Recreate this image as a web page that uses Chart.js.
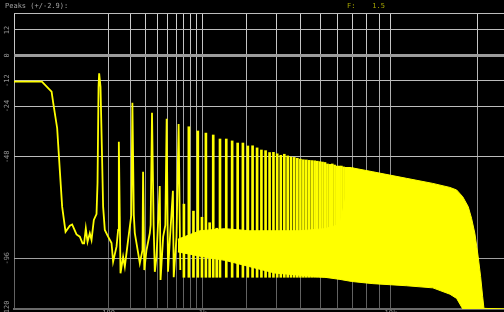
<!DOCTYPE html>
<html>
<head>
<meta charset="utf-8">
<script src="https://cdn.jsdelivr.net/npm/chart.js@4.4.1/dist/chart.umd.min.js"></script>
<style>
html, body { margin: 0; padding: 0; background: #000; }
#wrap { position: relative; width: 504px; height: 312px; overflow: hidden; background: #000; }
#spectrum { position: absolute; left: 0; top: 0; }
.hdr { position: absolute; top: 2px; font: 7px "DejaVu Sans Mono", monospace; line-height: 8px; white-space: pre; }
</style>
</head>
<body>
<div id="wrap">
  <canvas id="spectrum" width="504" height="312"></canvas>
  <div class="hdr" style="left:5px;color:#a4a4a4">Peaks (+/-2.9):</div>
  <div class="hdr" style="left:347px;color:#a8a800">F:    1.5</div>
</div>
<script>
// frequency axis is warped: position ~ f^0.3
const P = 0.3;
const maxHz = 24000;

// low end: DC bump, fundamental and the first harmonics with the noise between them
const lowHz = [0, 1.7, 4.6, 5.3, 7.3, 8.9, 10.5, 13.2, 17.2, 19.7, 25.1, 29.8, 34.1, 36.8, 39.8,
    43.1, 47.7, 51.4, 56.7, 63.3, 65.9, 68.6, 70.3, 74.1, 78.8, 81.8, 87.1, 98.1, 110.5, 116.6,
    130.5, 137.4, 140.6, 148.2, 160.6, 169.2, 186.4, 204.6, 210.9, 219.4, 225.6, 246.8, 258.2, 277.2, 281.2,
    290.2, 307, 333.3, 340, 351.5, 365.4, 375.8, 391.2, 421.8, 429.2, 455.4, 477.9, 492.1, 506.7, 526.9,
    562.4, 572, 606, 632.7, 654.6];
const lowDb = [-12.5, -12.5, -17.2, -22.5, -34.5, -54.3, -71.6, -83.5, -80.6, -80.0, -84.7, -85.8, -88.9, -88.9, -81.8,
    -88.2, -84.2, -87.4, -77.9, -75.1, -60.4, -14.9, -8.5, -14.9, -49.5, -71.6, -82.6, -85.8, -88.8, -97.6,
    -90.5, -82.6, -40.9, -103.1, -95.3, -100.0, -87.4, -75.6, -22.4, -75.6, -84.1, -93.5, -98.4, -92.1, -55.1,
    -101.6, -92.1, -84.1, -80.3, -27.2, -80.3, -102.4, -95.3, -61.8, -106.3, -85.8, -80.3, -30.0, -102.4, -87.4,
    -64.1, -105.0, -85.8, -32.5, -101.6];

// harmonic spikes
const fundamentalHz = 70.3;
const oddHarmDb = [-33.8, -35.8, -36.8, -37.7, -39.6, -39.6, -40.5, -41.5, -41.5, -42.9,   // n = 11..29
    -42.8, -43.8, -44.8, -45.1, -46.0, -45.9, -46.6, -47.3, -46.8, -47.6,                    // n = 31..49
    -48.1, -48.3, -48.7, -49.1, -49.4, -49.5, -49.7, -49.8, -49.9, -50.1,                    // n = 51..69
    -50.3, -50.5, -50.7, -51.4, -51.6, -51.4, -51.9, -52.4, -52.4, -52.4,                    // n = 71..89
    -52.8, -53.0, -53.0, -53.0, -53.2];                                                      // n = 91..99
const evenHarmDb = [-70.4, -73.7, -76.6, -79.2, -81.8];                                      // n = 10..18
const spikeFloorDb = -105;

// dense part: top and bottom edge of the yellow mass
const bandHz = [623, 947, 1444, 2097, 2935, 3983, 5265, 6166, 6950, 8500, 11460, 14220, 16250, 17100,
    17900, 18640, 19100, 19560, 20040, 20390, 20690, 20880, 24000];
const bandTopDb = [-87, -83, -82, -83, -83, -83, -82, -80, -53.2, -55.1, -58.2, -60.6, -62.5, -63.7,
    -66.9, -71.6, -77.1, -84.2, -95.3, -104.7, -114.2, -119.7, -120];
const bandBottomDb = [-93, -95, -97, -100, -103, -104, -105, -106, -107, -108, -109, -110, -113, -115,
    -120, -120, -120, -120, -120, -120, -120, -120, -120];

// grid and labels
const gridHz = [100, 200, 300, 400, 500, 600, 700, 800, 900,
    1000, 2000, 3000, 4000, 5000, 6000, 7000, 8000, 9000, 10000, 20000];
const gridDb = [20, 12, 0, -12, -24, -48, -96];
const dbLabels = [12, 0, -12, -24, -48, -96, -120];
const hzLabels = [[100, "100"], [1000, "1k"], [10000, "10k"]];

const toU = f => Math.pow(f, P);
const pts = (hz, db) => hz.map((f, i) => ({ x: toU(f), y: db[i] }));

const spikes = [];
oddHarmDb.forEach((db, i) => spikes.push({ n: 11 + 2 * i, db: db }));
evenHarmDb.forEach((db, i) => spikes.push({ n: 10 + 2 * i, db: db }));
spikes.sort((a, b) => a.n - b.n);
const spikeData = spikes.map(s => ({ x: toU(s.n * fundamentalHz), y: [spikeFloorDb, s.db] }));

const YELLOW = "#ffff00";

function vGrad(ctx) {
    const area = ctx.chart.chartArea;
    if (!area) return "#999";
    const g = ctx.chart.ctx.createLinearGradient(0, area.top, 0, area.bottom);
    g.addColorStop(0, "#d0d0d0");
    g.addColorStop(1, "#5c5c5c");
    return g;
}

const axisText = {
    id: "axisText",
    afterDraw(chart) {
        const c = chart.ctx;
        const y = chart.scales.y, x = chart.scales.x;
        c.save();
        c.font = '7px "DejaVu Sans Mono", monospace';
        c.fillStyle = "#929292";
        c.textAlign = "center";
        c.textBaseline = "middle";
        dbLabels.forEach(v => {
            c.save();
            c.translate(7.5, y.getPixelForValue(v));
            c.rotate(-Math.PI / 2);
            c.fillText(String(v), 0, 0);
            c.restore();
        });
        c.textBaseline = "top";
        hzLabels.forEach(([f, t]) => c.fillText(t, x.getPixelForValue(toU(f)), 309.5));
        c.restore();
    }
};

new Chart(document.getElementById("spectrum"), {
    type: "line",
    data: {
        datasets: [
            {
                data: pts(lowHz, lowDb),
                borderColor: YELLOW, borderWidth: 1.8,
                pointRadius: 0, tension: 0, fill: false
            },
            {
                type: "bar",
                data: spikeData,
                backgroundColor: YELLOW, borderWidth: 0,
                barThickness: 2, grouped: false
            },
            {
                data: pts(bandHz, bandTopDb),
                borderColor: YELLOW, borderWidth: 1,
                pointRadius: 0, tension: 0, fill: false
            },
            {
                data: pts(bandHz, bandBottomDb),
                borderColor: YELLOW, borderWidth: 1,
                backgroundColor: YELLOW,
                pointRadius: 0, tension: 0, fill: "-1"
            }
        ]
    },
    options: {
        responsive: false,
        animation: false,
        devicePixelRatio: 1,
        layout: { padding: { left: 14, top: 13, right: 0, bottom: 3 } },
        plugins: { legend: { display: false }, tooltip: { enabled: false } },
        scales: {
            x: {
                type: "linear",
                min: 0,
                max: toU(maxHz),
                offset: false,
                afterBuildTicks: s => { s.ticks = [0].concat(gridHz).map(f => ({ value: toU(f) })); },
                afterFit: s => { s.height = 0; },
                ticks: { display: false },
                grid: { color: vGrad, lineWidth: 1, drawTicks: false, offset: false },
                border: { display: true, color: "#6a6a6a", width: 2 }
            },
            y: {
                type: "linear",
                min: -120,
                max: 20,
                afterBuildTicks: s => { s.ticks = gridDb.map(v => ({ value: v })); },
                afterFit: s => { s.width = 0; },
                ticks: { display: false },
                grid: {
                    color: ctx => ctx.tick && ctx.tick.value === 0 ? "#9c9c9c" : (ctx.tick && ctx.tick.value === -96 ? "#a0a0a0" : "#bcbcbc"),
                    lineWidth: ctx => ctx.tick && ctx.tick.value === 0 ? 3 : 1,
                    drawTicks: false,
                    offset: false
                },
                border: { display: false }
            }
        }
    },
    plugins: [axisText]
});
</script>
</body>
</html>
